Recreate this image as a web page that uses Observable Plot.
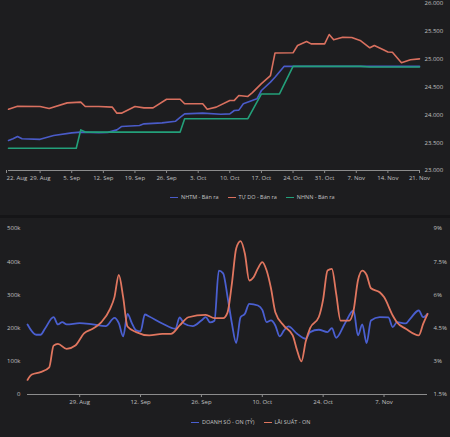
<!DOCTYPE html>
<html><head><meta charset="utf-8">
<script src="https://cdn.jsdelivr.net/npm/d3@7"></script>
<script src="https://cdn.jsdelivr.net/npm/@observablehq/plot@0.6"></script>
<style>
body{margin:0;background:#1d1d1f;width:450px;height:437px;overflow:hidden;font-family:"Open Sans",sans-serif;}
#wrap{position:relative;width:450px;height:437px;}
.chart{position:absolute;left:0;}
.legend{position:absolute;display:flex;gap:9px;font-size:5.5px;color:#c4c4c4;align-items:center;white-space:nowrap;}
.sw{display:inline-block;width:8px;height:1.5px;margin-right:3px;vertical-align:middle}
#divider{position:absolute;left:0;top:215px;width:450px;height:3px;background:#151517;}
</style></head>
<body>
<div id="wrap">
  <div id="top" class="chart" style="top:0"></div>
  <div id="topLegend" class="legend" style="top:193px;left:170px"></div>
  <div id="divider"></div>
  <div id="bottom" class="chart" style="top:220px"></div>
  <div id="bottomLegend" class="legend" style="top:418px;left:191px"></div>
</div>
<script>
// ---------- Top chart: exchange rates (VND) ----------
const topSeries = ["NHTM - Bán ra", "TỰ DO - Bán ra", "NHNN - Bán ra"];
const topColors = ["#4a5bc8", "#d9705f", "#23a07a"];

const nhtmDates = ["2022-08-22","2022-08-23","2022-08-24","2022-08-25","2022-08-29","2022-09-01","2022-09-05","2022-09-07","2022-09-11","2022-09-13","2022-09-15","2022-09-16","2022-09-20","2022-09-21","2022-09-25","2022-09-28","2022-09-29","2022-09-30","2022-10-04","2022-10-08","2022-10-10","2022-10-11","2022-10-12","2022-10-13","2022-10-16","2022-10-17","2022-10-19","2022-10-20","2022-10-22","2022-11-21"];
const nhtmValues = [23540,23570,23610,23570,23560,23628,23676,23690,23680,23685,23730,23790,23808,23838,23856,23886,23955,24018,24030,24010,24018,24078,24085,24198,24288,24437,24587,24676,24870,24870];

const tudoDates = ["2022-08-22","2022-08-24","2022-08-29","2022-08-31","2022-09-04","2022-09-07","2022-09-08","2022-09-11","2022-09-14","2022-09-15","2022-09-16","2022-09-19","2022-09-21","2022-09-23","2022-09-26","2022-09-29","2022-09-30","2022-10-04","2022-10-05","2022-10-07","2022-10-10","2022-10-11","2022-10-12","2022-10-14","2022-10-15","2022-10-17","2022-10-19","2022-10-20","2022-10-24","2022-10-25","2022-10-27","2022-10-28","2022-10-31","2022-11-01","2022-11-02","2022-11-04","2022-11-06","2022-11-08","2022-11-10","2022-11-11","2022-11-13","2022-11-14","2022-11-15","2022-11-17","2022-11-19","2022-11-21"];
const tudoValues = [24100,24155,24150,24115,24215,24228,24150,24150,24138,24030,24030,24150,24125,24125,24280,24280,24200,24200,24100,24138,24257,24260,24347,24330,24400,24560,24706,25110,25114,25245,25317,25275,25275,25443,25347,25395,25390,25330,25204,25245,25170,25130,25125,24935,24990,25006];

const nhnnDates = ["2022-08-22","2022-09-06","2022-09-07","2022-09-08","2022-09-29","2022-09-30","2022-10-14","2022-10-17","2022-10-21","2022-10-24","2022-11-08","2022-11-10","2022-11-21"];
const nhnnValues = [23400,23400,23730,23690,23690,23930,23930,24375,24375,24870,24870,24860,24860];

const topTickDates = ["2022-08-22","2022-08-29","2022-09-05","2022-09-12","2022-09-19","2022-09-26","2022-10-03","2022-10-10","2022-10-17","2022-10-24","2022-10-31","2022-11-07","2022-11-14","2022-11-21"];
const topYTicks = [23000,23500,24000,24500,25000,25500,26000];

// ---------- Bottom chart: interbank ON volume & rate ----------
const bottomSeries = ["DOANH SỐ - ON (TỶ)", "LÃI SUẤT - ON"];
const bottomColors = ["#4a5fd0", "#e0765f"];

const volDates = ["2022-08-17","2022-08-19","2022-08-20","2022-08-21","2022-08-23","2022-08-24","2022-08-25","2022-08-26","2022-08-29","2022-09-01","2022-09-04","2022-09-06","2022-09-07","2022-09-08","2022-09-09","2022-09-10","2022-09-11","2022-09-12","2022-09-13","2022-09-14","2022-09-17","2022-09-20","2022-09-21","2022-09-22","2022-09-24","2022-09-26","2022-09-27","2022-09-28","2022-09-29","2022-09-30","2022-10-01","2022-10-02","2022-10-03","2022-10-04","2022-10-05","2022-10-06","2022-10-07","2022-10-09","2022-10-10","2022-10-11","2022-10-12","2022-10-13","2022-10-14","2022-10-15","2022-10-16","2022-10-18","2022-10-20","2022-10-21","2022-10-23","2022-10-25","2022-10-26","2022-10-27","2022-10-29","2022-10-31","2022-11-01","2022-11-02","2022-11-03","2022-11-04","2022-11-06","2022-11-08","2022-11-09","2022-11-10","2022-11-12","2022-11-13","2022-11-15","2022-11-16","2022-11-17"];
const volValues = [211,180,180,198,233,211,218,211,215,211,206,231,215,175,243,215,193,190,241,235,214,198,232,214,206,223,233,217,222,373,365,295,215,155,233,243,273,268,255,218,223,208,175,193,205,183,168,188,195,188,200,171,214,253,178,211,155,223,233,232,203,218,214,228,253,233,243];

const rateDates = ["2022-08-17","2022-08-18","2022-08-20","2022-08-22","2022-08-23","2022-08-24","2022-08-26","2022-08-28","2022-08-30","2022-09-01","2022-09-03","2022-09-05","2022-09-06","2022-09-07","2022-09-08","2022-09-09","2022-09-11","2022-09-14","2022-09-17","2022-09-19","2022-09-21","2022-09-23","2022-09-27","2022-09-29","2022-10-01","2022-10-02","2022-10-03","2022-10-04","2022-10-05","2022-10-06","2022-10-07","2022-10-08","2022-10-09","2022-10-10","2022-10-11","2022-10-12","2022-10-13","2022-10-15","2022-10-17","2022-10-18","2022-10-19","2022-10-20","2022-10-21","2022-10-23","2022-10-24","2022-10-25","2022-10-26","2022-10-27","2022-10-28","2022-10-30","2022-10-31","2022-11-01","2022-11-02","2022-11-03","2022-11-04","2022-11-06","2022-11-07","2022-11-09","2022-11-10","2022-11-12","2022-11-15","2022-11-16","2022-11-17"];
const rateValues = [2.16,2.40,2.51,2.73,3.71,3.79,3.56,3.71,4.26,4.47,4.77,5.37,5.9,6.9,5.9,4.57,4.32,4.17,4.24,4.24,4.62,4.99,5.10,4.95,4.95,5.2,6.5,8.1,8.43,7.86,6.65,6.8,7.2,7.48,7.1,6.3,5.22,4.6,4.17,3.5,3.0,3.9,4.5,5.0,5.8,7.1,7.18,6.05,4.84,4.84,5.3,6.65,7.1,6.9,6.3,6.12,5.9,5.07,4.75,4.47,4.17,4.69,5.14];

const bottomTickDates = ["2022-08-29","2022-09-12","2022-09-26","2022-10-10","2022-10-24","2022-11-07"];
const volTicks = [0,100,200,300,400,500];
const rateTicks = [1.5,3,4.5,6,7.5,9];

// ---------- helpers ----------
const parse = s => new Date(s + "T00:00:00Z");
const rows = (dates, values, series) => dates.map((d, i) => ({date: parse(d), value: values[i], series}));
const fmtDot = d => d3.format(",")(d).replace(/,/g, ".");
const fmtDate = d3.utcFormat("%-d. %b");
const axisColor = "#8c8c8c";
const textStyle = {background: "transparent", color: "#c0c0c0", fontSize: "6px", fontFamily: "Open Sans, sans-serif", overflow: "visible"};

const topData = [
  ...rows(nhtmDates, nhtmValues, topSeries[0]),
  ...rows(tudoDates, tudoValues, topSeries[1]),
  ...rows(nhnnDates, nhnnValues, topSeries[2])
];

const topTicks = topTickDates.map(parse);
const topPlot = Plot.plot({
  width: 450, height: 185,
  marginLeft: 8, marginRight: 31, marginTop: 3, marginBottom: 15,
  style: textStyle,
  x: {type: "utc", domain: [topTicks[0], topTicks[topTicks.length - 1]]},
  y: {domain: [topYTicks[0], topYTicks[topYTicks.length - 1]]},
  color: {domain: topSeries, range: topColors},
  marks: [
    Plot.ruleY([topYTicks[0]], {stroke: axisColor, strokeWidth: 1}),
    Plot.axisX({ticks: topTicks.slice(1), tickFormat: fmtDate, tickSize: 3, tickPadding: 2, stroke: axisColor, label: null}),
    Plot.axisX({ticks: topTicks.slice(0, 1), tickFormat: fmtDate, tickSize: 3, tickPadding: 2, stroke: axisColor, label: null, textAnchor: "start", dx: -2}),
    Plot.axisY({anchor: "right", ticks: topYTicks, tickFormat: fmtDot, tickSize: 0, tickPadding: 5, label: null}),
    Plot.line(topData, {x: "date", y: "value", z: "series", stroke: "series", strokeWidth: 1.6})
  ]
});
document.getElementById("top").append(topPlot);

const rateToVol = r => (r - rateTicks[0]) / (rateTicks[rateTicks.length - 1] - rateTicks[0]) * volTicks[volTicks.length - 1];
const volToRate = v => rateTicks[0] + v / volTicks[volTicks.length - 1] * (rateTicks[rateTicks.length - 1] - rateTicks[0]);

const bottomData = [
  ...rows(volDates, volValues, bottomSeries[0]).map(d => ({...d, y: d.value})),
  ...rows(rateDates, rateValues, bottomSeries[1]).map(d => ({...d, y: rateToVol(d.value)}))
];

const bottomPlot = Plot.plot({
  width: 450, height: 190,
  marginLeft: 27, marginRight: 23, marginTop: 8, marginBottom: 16,
  style: textStyle,
  x: {type: "utc", domain: [parse("2022-08-17"), parse("2022-11-17")]},
  y: {domain: [volTicks[0], volTicks[volTicks.length - 1]]},
  color: {domain: bottomSeries, range: bottomColors},
  marks: [
    Plot.ruleY([0], {stroke: axisColor, strokeWidth: 1}),
    Plot.axisX({ticks: bottomTickDates.map(parse), tickFormat: fmtDate, tickSize: 3, tickPadding: 2, stroke: axisColor, label: null}),
    Plot.axisY({anchor: "left", ticks: volTicks, tickFormat: d => d === 0 ? "0" : d + "k", tickSize: 0, tickPadding: 7, label: null}),
    Plot.axisY({anchor: "right", ticks: volTicks, tickFormat: d => (+volToRate(d).toFixed(1)) + "%", tickSize: 0, tickPadding: 6, label: null}),
    Plot.line(bottomData, {x: "date", y: "y", z: "series", stroke: "series", strokeWidth: 1.8, curve: "monotone-x"})
  ]
});
document.getElementById("bottom").append(bottomPlot);

// ---------- legends ----------
function legend(el, names, colors) {
  const box = document.getElementById(el);
  names.forEach((n, i) => {
    const item = document.createElement("span");
    item.innerHTML = `<span class="sw" style="background:${colors[i]}"></span>${n}`;
    box.append(item);
  });
}
legend("topLegend", topSeries, topColors);
legend("bottomLegend", bottomSeries, bottomColors);
</script>
</body></html>
